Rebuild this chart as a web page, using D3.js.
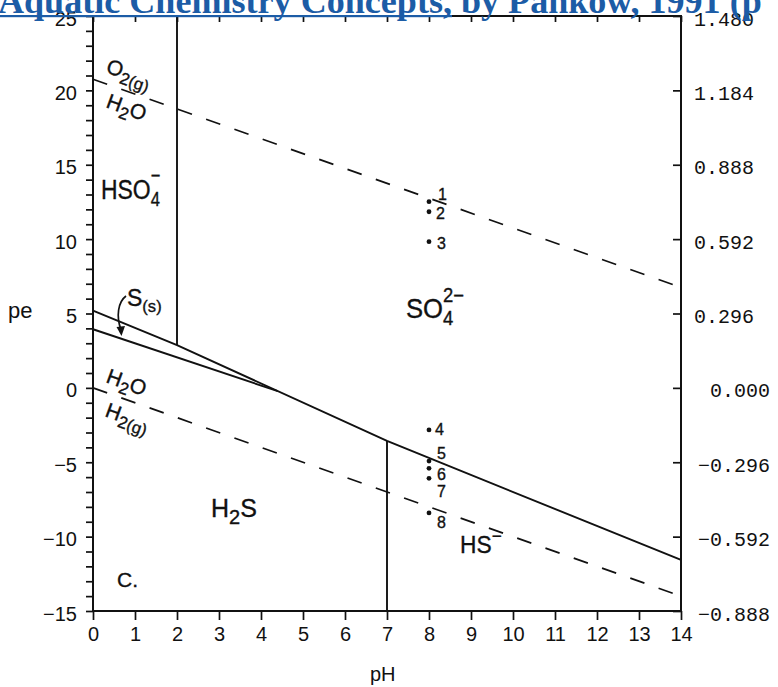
<!DOCTYPE html>
<html>
<head>
<meta charset="utf-8">
<script src="https://cdn.jsdelivr.net/npm/d3@7"></script>
<style>
  body { margin: 0; background: #fff; }
  svg { display: block; }
  text { font-family: "Liberation Sans", Arial, sans-serif; fill: #111; }
  .lbl text { stroke: #111; stroke-width: 0.35px; }
</style>
</head>
<body>
<svg id="chart" width="778" height="687"></svg>
<script>
// ---- Data: pe–pH predominance diagram for sulfur species ----
const phTicks = [0, 1, 2, 3, 4, 5, 6, 7, 8, 9, 10, 11, 12, 13, 14];
const peMajorTicks = [-15, -10, -5, 0, 5, 10, 15, 20, 25];
const peMinorTicks = [-15, -14, -13, -12, -11, -10, -9, -8, -7, -6, -5, -4, -3, -2, -1,
  0, 1, 2, 3, 4, 5, 6, 7, 8, 9, 10, 11, 12, 13, 14, 15, 16, 17, 18, 19, 20, 21, 22, 23, 24, 25];
const ehTickLabels = ["−0.888", "−0.592", "−0.296", "0.000", "0.296", "0.592", "0.888", "1.184", "1.480"];

// boundary lines as [pH, pe]
const sulfateBoundary = [[0, 5.19], [2, 2.88], [7, -3.57], [14, -11.57]];
const sulfurBoundary = [[0, 3.94], [4.4, -0.22]];
const bisulfateDivide = [[2, 25], [2, 2.88]];
const sulfideDivide = [[7, -15], [7, -3.57]];
const oxygenLine = [[0, 20.75], [14, 6.75]];
const hydrogenLine = [[0, 0], [14, -14]];

// numbered water samples
const sampleIds = ["1", "2", "3", "4", "5", "6", "7", "8"];
const samplePH = [8, 8, 8, 8, 8, 8, 8, 8];
const samplePe = [12.52, 11.84, 9.83, -2.83, -4.92, -5.41, -6.08, -8.41];

// ---- Layout ----
const svg = d3.select("#chart");
const x = d3.scaleLinear().domain([0, 14]).range([93, 681]);
const y = d3.scaleLinear().domain([-15, 25]).range([611, 16]);
const ink = "#111";

// sample label offsets (px) from each dot
const sampleLabelShift = [[9, -2], [7, 7], [8, 7], [6, 5], [8, -2], [8, 12], [8, 19], [8, 15]];

const line = d3.line().x(d => x(d[0])).y(d => y(d[1]));

// boundary lines
[sulfateBoundary, sulfurBoundary, bisulfateDivide, sulfideDivide].forEach(pts => {
  svg.append("path").attr("d", line(pts))
    .attr("fill", "none").attr("stroke", ink).attr("stroke-width", 1.9);
});
// water stability limits
[oxygenLine, hydrogenLine].forEach(pts => {
  svg.append("path").attr("d", line(pts))
    .attr("fill", "none").attr("stroke", ink).attr("stroke-width", 1.7)
    .attr("stroke-dasharray", "15,15");
});

// axes
const fmt = d => (d < 0 ? "−" + Math.abs(d) : String(d));
const leftAxis = d3.axisLeft(y).tickValues(peMinorTicks).tickSize(7).tickSizeOuter(0).tickPadding(9)
  .tickFormat(d => peMajorTicks.includes(d) ? fmt(d) : "");
const gl = svg.append("g").attr("transform", `translate(${x(0)},0)`).call(leftAxis);
gl.selectAll("text").attr("font-size", 20).attr("dy", "0.45em");

const bottomAxis = d3.axisBottom(x).tickValues(phTicks).tickSize(9).tickSizeOuter(0).tickPadding(7)
  .tickFormat(d => String(d));
const gb = svg.append("g").attr("transform", `translate(0,${y(-15)})`).call(bottomAxis);
gb.selectAll("text").attr("font-size", 20);

const topAxis = d3.axisTop(x).tickValues(phTicks).tickSize(-6).tickSizeOuter(0).tickFormat("");
svg.append("g").attr("transform", `translate(0,${y(25)})`).call(topAxis);

const rightAxis = d3.axisRight(y).tickValues(peMajorTicks).tickSize(-8).tickSizeOuter(0).tickPadding(13)
  .tickFormat((d, i) => ehTickLabels[i]);
const gr = svg.append("g").attr("transform", `translate(${x(14)},0)`).call(rightAxis);
gr.selectAll("text")
  .style("font-family", "'Liberation Mono', 'DejaVu Sans Mono', monospace")
  .attr("font-size", 20).attr("dy", "0.45em")
  .attr("text-anchor", d => d > 0 ? "start" : "end")
  .attr("x", d => d > 0 ? 13 : 89);

svg.selectAll("g").each(function () {
  const g = d3.select(this);
  g.selectAll(".tick line").attr("stroke", ink).attr("stroke-width", 1.7);
  g.selectAll(".domain").remove();
  g.attr("font-family", null);
});
svg.selectAll(".tick text").attr("fill", ink);

// frame
svg.append("rect")
  .attr("x", x(0)).attr("y", y(25))
  .attr("width", x(14) - x(0)).attr("height", y(-15) - y(25))
  .attr("fill", "none").attr("stroke", ink).attr("stroke-width", 2);

// samples
const samples = sampleIds.map((id, i) => ({ id, ph: samplePH[i], pe: samplePe[i], s: sampleLabelShift[i] }));
svg.selectAll("circle.sample").data(samples).join("circle")
  .attr("class", "sample")
  .attr("cx", d => x(d.ph)).attr("cy", d => y(d.pe)).attr("r", 2.4).attr("fill", ink);
svg.append("g").attr("class", "lbl").selectAll("text").data(samples).join("text")
  .attr("x", d => x(d.ph) + d.s[0]).attr("y", d => y(d.pe) + d.s[1])
  .attr("font-size", 16).text(d => d.id);

// chemical-species labels with subscripts / superscripts
function chem(x0, y0, parts, o) {
  const fs = o.size;
  const g = svg.append("g").attr("class", "lbl")
    .attr("transform", `translate(${x0},${y0}) rotate(${o.rotate || 0}) scale(${o.sx || 1},1)`);
  let cx = 0;
  const small = fs * (o.small || 0.8);
  const subY = fs * 0.26, supY = -fs * (o.supLift || 0.45);
  parts.forEach(p => {
    if (p.stack) {
      const a = g.append("text").attr("x", cx).attr("y", subY).attr("font-size", small).text(p.stack[0]);
      const b = g.append("text").attr("x", cx).attr("y", supY).attr("font-size", small).text(p.stack[1]);
      cx += Math.max(a.node().getComputedTextLength(), b.node().getComputedTextLength());
    } else {
      const dy = p.sub ? subY : p.sup ? supY : 0;
      const t = g.append("text").attr("x", cx).attr("y", dy)
        .attr("font-size", (p.sub || p.sup) ? small : fs).text(p.t);
      cx += t.node().getComputedTextLength();
    }
  });
  return g;
}

chem(105, 72, [{ t: "O" }, { t: "2(g)", sub: true }], { size: 21, rotate: 20 });
chem(105, 107, [{ t: "H" }, { t: "2", sub: true }, { t: "O" }], { size: 21, rotate: 20 });
chem(105, 382, [{ t: "H" }, { t: "2", sub: true }, { t: "O" }], { size: 21, rotate: 20 });
chem(104, 416, [{ t: "H" }, { t: "2(g)", sub: true }], { size: 21, rotate: 20 });
chem(101, 199, [{ t: "HSO" }, { stack: ["4", "−"] }], { size: 27, sx: 0.85, small: 0.72, supLift: 0.62 });
chem(406, 318, [{ t: "SO" }, { stack: ["4", "2−"] }], { size: 27, sx: 0.95, small: 0.72, supLift: 0.6 });
chem(211, 517, [{ t: "H" }, { t: "2", sub: true }, { t: "S" }], { size: 25 });
chem(460, 553, [{ t: "HS" }, { t: "−", sup: true }], { size: 24, sx: 0.95, small: 0.75 });
chem(127, 306, [{ t: "S" }, { t: "(s)", sub: true }], { size: 23, small: 0.72 });

// arrow from the S(s) label into its thin stability field
svg.append("path").attr("d", "M126,296 C118,302 116,316 121,330")
  .attr("fill", "none").attr("stroke", ink).attr("stroke-width", 1.7);
svg.append("path").attr("d", "M116.5,327 L125,326 L121.5,336 Z").attr("fill", ink);

const misc = svg.append("g").attr("class", "lbl");
misc.append("text").attr("x", 117).attr("y", 587).attr("font-size", 21).text("C.");

// axis titles
svg.append("text").attr("x", 8).attr("y", 318).attr("font-size", 22).text("pe");
svg.append("text").attr("x", 370).attr("y", 681).attr("font-size", 20).text("pH");

// source caption running across the top edge
const cap = svg.append("g");
const capLink = "Aquatic Chemistry Concepts,";
const capRest = " by Pankow, 1991 (p";
const probe = cap.append("text").attr("font-size", 100)
  .style("font-family", "'Liberation Serif', 'Times New Roman', serif").attr("font-weight", "bold").text(capLink);
const capSize = 100 * 454 / probe.node().getComputedTextLength();
probe.remove();
const capText = cap.append("text").attr("x", -2).attr("y", 13)
  .style("font-family", "'Liberation Serif', 'Times New Roman', serif")
  .attr("font-weight", "bold").attr("font-size", capSize).style("fill", "#1c5ca6");
capText.append("tspan").text(capLink);
capText.append("tspan").text(capRest);
cap.append("rect").attr("x", -2).attr("y", 15).attr("width", 454).attr("height", 2.2).attr("fill", "#1c5ca6");
</script>
</body>
</html>
